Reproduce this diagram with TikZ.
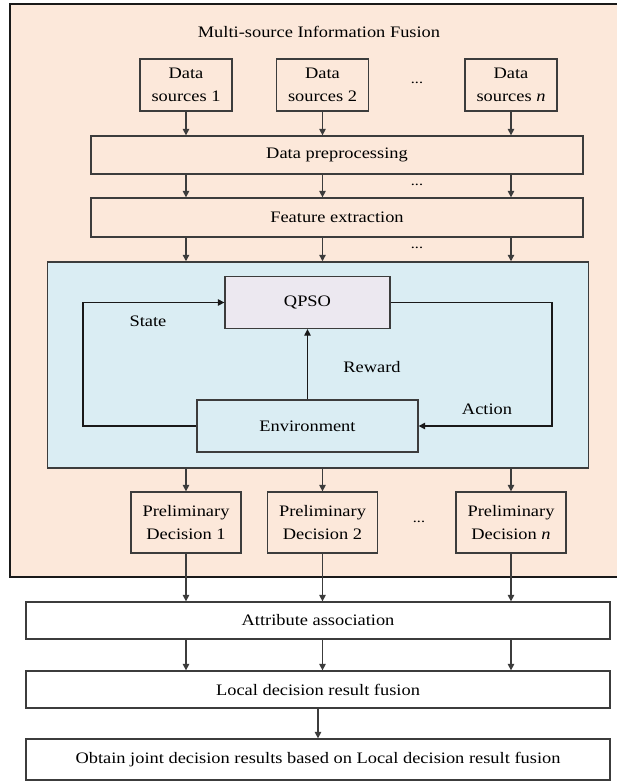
\documentclass[tikz,border=0pt]{standalone}
\usepackage{fontspec}
\setmainfont{Liberation Serif}[FakeStretch=1.15]
\usetikzlibrary{arrows.meta}
\definecolor{peach}{HTML}{FCE8DA}
\definecolor{paleblue}{HTML}{DAEDF3}
\definecolor{lavender}{HTML}{ECE8F0}
\definecolor{edge}{HTML}{3C3C3C}
\begin{document}
\begin{tikzpicture}[x=1pt,y=-1pt,
  every node/.style={font=\fontsize{16}{23}\selectfont, inner sep=0pt},
  box/.style={draw=edge, line width=1.3pt, fill=peach, align=center},
  wbox/.style={box, fill=white},
  flow/.style={draw=edge, line width=1.3pt, -{Triangle[width=6.5pt,length=6.5pt]}},
  loopflow/.style={draw=black!90, line width=1.3pt, -{Triangle[width=6.5pt,length=6.5pt]}},
  dotsnode/.style={font=\fontsize{14}{16}\selectfont}
]
\useasboundingbox (0,0) rectangle (617,782);
\fill[white] (0,0) rectangle (617,782);

% outer fusion frame
\draw[fill=peach, draw=black!90, line width=1.5pt] (10,4) rectangle (625,577);
\node (title) at (319,32) {Multi-source Information Fusion};

% data sources
\node[box, minimum width=92pt, minimum height=52pt] (ds1) at (186,85) {Data\\sources 1};
\node[box, minimum width=92pt, minimum height=52pt] (ds2) at (322.5,85) {Data\\sources 2};
\node[box, minimum width=92pt, minimum height=52pt] (dsn) at (511,85) {Data\\sources \textit{n}};
\node[dotsnode] (d1) at (417,83) {...};

% preprocessing stages
\node[box, minimum width=492pt, minimum height=38pt] (dp) at (337,155) {Data preprocessing};
\node[box, minimum width=492pt, minimum height=39pt] (fe) at (337,217.5) {Feature extraction};
\node[dotsnode] (d2) at (417,185) {...};
\node[dotsnode] (d3) at (417,248) {...};

% reinforcement loop
\node[draw=edge, line width=1.5pt, fill=paleblue, minimum width=541pt, minimum height=206pt] (rl) at (318,365) {};
\node[box, fill=lavender, minimum width=165pt, minimum height=52pt] (qpso) at (307.5,302.5) {QPSO};
\node[box, fill=paleblue, minimum width=221pt, minimum height=52pt] (env) at (307.5,426) {Environment};
\coordinate (sl) at (83,0);
\coordinate (sr) at (552,0);
\draw[loopflow] (env.west) -- (env.west -| sl) -- (qpso.west -| sl) -- (qpso.west);
\draw[loopflow] (qpso.east) -- (qpso.east -| sr) -- (env.east -| sr) -- (env.east);
\draw[loopflow] (env.north) -- (qpso.south);
\node (state) at (148,321) {State};
\node (reward) at (372,367) {Reward};
\node (action) at (487,409) {Action};

% preliminary decisions
\node[box, minimum width=110pt, minimum height=61pt] (pd1) at (186,522.5) {Preliminary\\Decision 1};
\node[box, minimum width=110pt, minimum height=61pt] (pd2) at (322.5,522.5) {Preliminary\\Decision 2};
\node[box, minimum width=110pt, minimum height=61pt] (pdn) at (511,522.5) {Preliminary\\Decision \textit{n}};
\node[dotsnode] (d4) at (419,522) {...};

% decision-level fusion
\node[wbox, minimum width=584pt, minimum height=37pt] (attr) at (318,620.5) {Attribute association};
\node[wbox, minimum width=584pt, minimum height=37pt] (local) at (318,689.5) {Local decision result fusion};
\node[wbox, minimum width=584pt, minimum height=41pt] (joint) at (318,759.5) {Obtain joint decision results based on Local decision result fusion};

% connectors
\foreach \n/\p in {ds1/pd1, ds2/pd2, dsn/pdn} {
  \draw[flow] (\n.south) -- (\n.south |- dp.north);
  \draw[flow] (dp.south -| \n) -- (fe.north -| \n);
  \draw[flow] (fe.south -| \n) -- (rl.north -| \n);
  \draw[flow] (rl.south -| \p) -- (\p.north);
  \draw[flow] (\p.south) -- (\p.south |- attr.north);
  \draw[flow] (attr.south -| \p) -- (local.north -| \p);
}
\draw[flow] (local.south) -- (joint.north);
\end{tikzpicture}
\end{document}
